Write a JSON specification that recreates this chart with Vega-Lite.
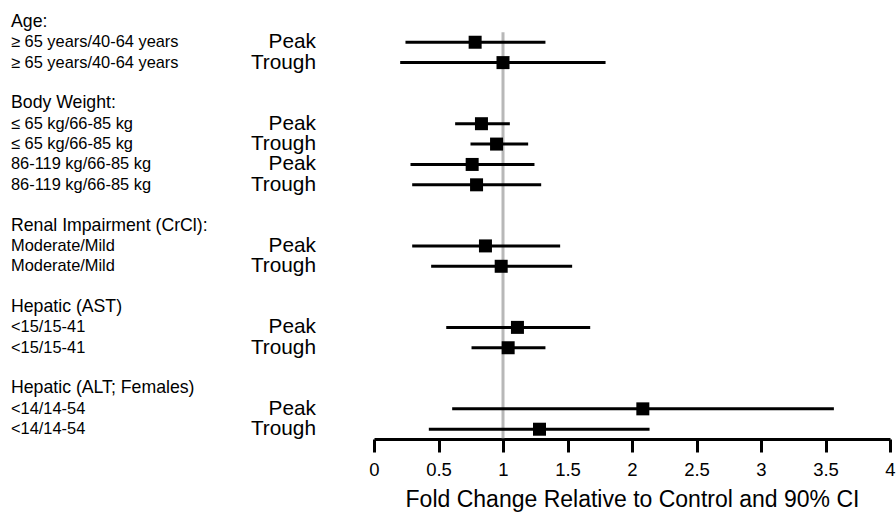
{
  "$schema": "https://vega.github.io/schema/vega-lite/v6.json",
  "padding": 0,
  "background": "white",
  "bounds": "flush",
  "spacing": 0,
  "config": {
    "view": {"stroke": null},
    "font": "Liberation Sans",
    "concat": {"spacing": 0}
  },
  "datasets": {
    "est": [
      {"id": "Age-P", "sub": "≥ 65 years/40-64 years", "stat": "Peak", "est": 0.784, "lo": 0.244, "hi": 1.329},
      {"id": "Age-T", "sub": "≥ 65 years/40-64 years", "stat": "Trough", "est": 1.0, "lo": 0.203, "hi": 1.795},
      {"id": "BW1-P", "sub": "≤ 65 kg/66-85 kg", "stat": "Peak", "est": 0.833, "lo": 0.629, "hi": 1.053},
      {"id": "BW1-T", "sub": "≤ 65 kg/66-85 kg", "stat": "Trough", "est": 0.95, "lo": 0.748, "hi": 1.195},
      {"id": "BW2-P", "sub": "86-119 kg/66-85 kg", "stat": "Peak", "est": 0.761, "lo": 0.283, "hi": 1.244},
      {"id": "BW2-T", "sub": "86-119 kg/66-85 kg", "stat": "Trough", "est": 0.795, "lo": 0.296, "hi": 1.296},
      {"id": "Renal-P", "sub": "Moderate/Mild", "stat": "Peak", "est": 0.864, "lo": 0.296, "hi": 1.443},
      {"id": "Renal-T", "sub": "Moderate/Mild", "stat": "Trough", "est": 0.986, "lo": 0.443, "hi": 1.536},
      {"id": "AST-P", "sub": "<15/15-41", "stat": "Peak", "est": 1.112, "lo": 0.56, "hi": 1.676},
      {"id": "AST-T", "sub": "<15/15-41", "stat": "Trough", "est": 1.04, "lo": 0.756, "hi": 1.329},
      {"id": "ALT-P", "sub": "<14/14-54", "stat": "Peak", "est": 2.084, "lo": 0.606, "hi": 3.565},
      {"id": "ALT-T", "sub": "<14/14-54", "stat": "Trough", "est": 1.283, "lo": 0.425, "hi": 2.136}
    ],
    "headers": [
      {"id": "h-Age", "text": "Age:"},
      {"id": "h-BW", "text": "Body Weight:"},
      {"id": "h-Renal", "text": "Renal Impairment (CrCl):"},
      {"id": "h-AST", "text": "Hepatic (AST)"},
      {"id": "h-ALT", "text": "Hepatic (ALT; Females)"}
    ],
    "ref": [
      {"x": 1, "from": "Age-P", "to": "ALT-T"}
    ]
  },
  "hconcat": [
    {
      "width": 374,
      "height": 439,
      "layer": [
        {
          "data": {"name": "headers"},
          "mark": {"type": "text", "align": "left", "baseline": "middle", "fontSize": 17.7, "color": "black"},
          "encoding": {
            "x": {"datum": "label", "type": "ordinal", "scale": {"type": "point", "domain": ["label", "stat"], "range": [11, 316], "padding": 0}, "axis": null},
            "y": {"field": "id", "type": "ordinal", "axis": null, "scale": {"type": "point", "domain": ["h-Age", "Age-P", "Age-T", "s1", "h-BW", "BW1-P", "BW1-T", "BW2-P", "BW2-T", "s2", "h-Renal", "Renal-P", "Renal-T", "s3", "h-AST", "AST-P", "AST-T", "s4", "h-ALT", "ALT-P", "ALT-T"], "padding": 0.777, "align": 0.691}},
            "text": {"field": "text"}
          }
        },
        {
          "data": {"name": "est"},
          "mark": {"type": "text", "align": "left", "baseline": "middle", "fontSize": 16.4, "color": "black"},
          "encoding": {
            "x": {"datum": "label", "type": "ordinal", "axis": null},
            "y": {"field": "id", "type": "ordinal", "axis": null},
            "text": {"field": "sub"}
          }
        },
        {
          "data": {"name": "est"},
          "mark": {"type": "text", "align": "right", "baseline": "middle", "fontSize": 20.8, "color": "black"},
          "encoding": {
            "x": {"datum": "stat", "type": "ordinal", "axis": null},
            "y": {"field": "id", "type": "ordinal", "axis": null},
            "text": {"field": "stat"}
          }
        }
      ]
    },
    {
      "width": 516,
      "height": 439,
      "layer": [
        {
          "data": {"name": "ref"},
          "mark": {"type": "rule", "color": "#b8b8b8", "strokeWidth": 3, "yOffset": -10, "y2Offset": 9},
          "encoding": {
            "x": {"field": "x", "type": "quantitative", "scale": {"domain": [0, 4], "nice": false, "zero": false},
              "axis": {"values": [0, 0.5, 1, 1.5, 2, 2.5, 3, 3.5, 4], "format": "~g", "grid": false, "domainColor": "black", "domainWidth": 3, "tickColor": "black", "tickWidth": 3, "tickSize": 13, "labelFontSize": 18.5, "labelColor": "black", "labelPadding": 8, "labelFlush": false, "title": "Fold Change Relative to Control and 90% CI", "titleFontSize": 23, "titleFontWeight": "normal", "titleColor": "black", "titlePadding": 10}},
            "y": {"field": "from", "type": "ordinal", "axis": null, "scale": {"type": "point", "domain": ["h-Age", "Age-P", "Age-T", "s1", "h-BW", "BW1-P", "BW1-T", "BW2-P", "BW2-T", "s2", "h-Renal", "Renal-P", "Renal-T", "s3", "h-AST", "AST-P", "AST-T", "s4", "h-ALT", "ALT-P", "ALT-T"], "padding": 0.777, "align": 0.691}},
            "y2": {"field": "to"}
          }
        },
        {
          "data": {"name": "est"},
          "mark": {"type": "rule", "color": "black", "strokeWidth": 3},
          "encoding": {
            "x": {"field": "lo", "type": "quantitative"},
            "x2": {"field": "hi"},
            "y": {"field": "id", "type": "ordinal", "axis": null}
          }
        },
        {
          "data": {"name": "est"},
          "mark": {"type": "square", "size": 169, "filled": true, "color": "black", "opacity": 1},
          "encoding": {
            "x": {"field": "est", "type": "quantitative"},
            "y": {"field": "id", "type": "ordinal", "axis": null}
          }
        }
      ]
    }
  ]
}
